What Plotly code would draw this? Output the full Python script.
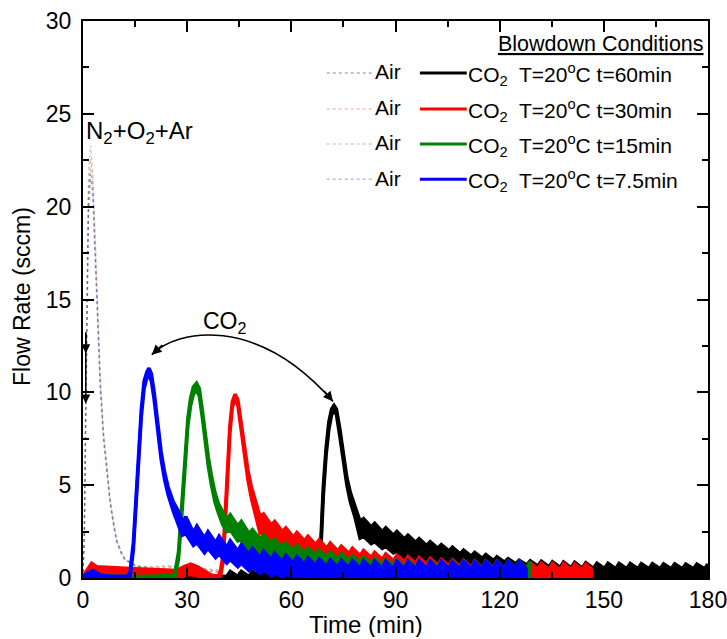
import plotly.graph_objects as go

# ---------------- data ----------------
t_air = [0, 0.4, 0.8, 1.2, 1.6, 2.2, 2.8, 3.4, 4.2, 5.0, 5.9, 7.0, 7.8, 8.8, 9.7, 11.0, 12.1, 15.4, 20, 25, 30, 35, 40]
air_60 = [0, 2.5, 9, 16, 20.5, 22.0, 21.0, 18.0, 14.0, 10.3, 7.6, 5.4, 4.1, 2.9, 2.0, 1.35, 1.0, 0.65, 0.6, 0.65, 0.55, 0.5, 0.4]
air_30 = [0, 3, 10, 17, 21, 22.6, 21.5, 18.6, 14.5, 10.6, 7.8, 5.5, 4.2, 3.0, 2.05, 1.4, 1.0, 0.6, 0.55, 0.6, 0.5, 0.45, 0.35]
air_15 = [0, 3, 10.5, 18, 22, 23.3, 22, 19, 14.8, 10.8, 8.0, 5.6, 4.3, 3.1, 2.1, 1.45, 1.05, 0.65, 0.5, 0.55, 0.5, 0.4, 0.3]
air_7p5 = [0, 2, 8, 15, 19.5, 21.5, 20.5, 17.5, 13.6, 10.0, 7.4, 5.2, 4.0, 2.8, 1.9, 1.3, 0.95, 0.6, 0.5, 0.45, 0.4, 0.35, 0.3]

# CO2, t=7.5 min (blue)
t_blue = [0, 1.5, 3.0, 5.0, 8.0, 13.0, 13.6, 14.5, 15.3, 16.0, 16.8, 17.6, 18.4, 19.0, 19.7, 20.5, 21.5, 22.5, 23.5, 24.5, 26.0, 27.5,
          28.6, 29.6, 31.8, 32.8, 35.0, 36.0, 38.2, 39.2, 41.4, 42.4, 44.6, 45.6, 47.8, 48.8, 51.0, 52.0, 54.2, 55.2,
          57.4, 58.4, 60.6, 61.6, 63.8, 64.8, 67.0, 68.0, 70.2, 71.2, 73.4, 74.4, 76.6, 77.6, 79.8, 80.8, 83.0, 84.0,
          86.2, 87.2, 89.4, 90.4, 92.6, 93.6, 95.8, 96.8, 99.0, 100.0, 102.2, 103.2, 105.4, 106.4, 108.6, 109.6,
          111.8, 112.8, 115.0, 116.0, 118.2, 119.2, 121.4, 122.4, 124.6, 125.6, 127.6, 127.7]
hi_blue = [0.05, 0.3, 0.4, 0.15, 0.1, 0.1, 0.4, 1.9, 4.4, 6.9, 9.1, 10.6, 11.1, 11.3, 11.0, 10.0, 8.3, 6.8, 5.7, 4.9, 4.1, 3.6,
           3.0, 3.3, 2.45, 2.8, 2.15, 2.5, 1.9, 2.25, 1.65, 2.0, 1.45, 1.8, 1.27, 1.6, 1.1, 1.45, 0.98, 1.33,
           0.88, 1.23, 0.8, 1.15, 0.73, 1.08, 0.67, 1.02, 0.62, 0.98, 0.58, 0.95, 0.55, 0.93, 0.53, 0.92, 0.52, 0.9,
           0.5, 0.9, 0.5, 0.9, 0.5, 0.9, 0.5, 0.9, 0.5, 0.9, 0.5, 0.9, 0.5, 0.88, 0.5, 0.88,
           0.5, 0.88, 0.5, 0.88, 0.5, 0.88, 0.5, 0.88, 0.5, 0.88, 0.5, 0.0]
lo_blue = [0, 0, 0, 0, 0, 0, 0.1, 1.5, 4.0, 6.5, 8.7, 10.2, 10.8, 10.9, 10.6, 9.6, 7.9, 6.4, 5.3, 4.5, 3.6, 2.9,
           2.3, 2.4, 1.75, 1.9, 1.35, 1.6, 1.1, 1.3, 0.8, 1.0, 0.6, 0.8, 0.4, 0.6, 0.25, 0.45, 0.12, 0.3,
           0.05, 0.2, 0, 0.1, 0, 0, 0, 0, 0, 0, 0, 0, 0, 0, 0, 0, 0, 0,
           0, 0, 0, 0, 0, 0, 0, 0, 0, 0, 0, 0, 0, 0, 0, 0,
           0, 0, 0, 0, 0, 0, 0, 0, 0, 0, 0, 0]

# CO2, t=15 min (green)
t_green = [0, 3.0, 10.0, 20.0, 26.0, 26.5, 27.5, 28.5, 29.4, 30.2, 31.0, 31.8, 32.7, 33.5, 34.4, 35.3, 36.1, 37.0, 38.0, 39.0, 40.2,
           41.4, 42.4, 44.6, 45.6, 47.8, 48.8, 51.0, 52.0, 54.2, 55.2, 57.4, 58.4, 60.6, 61.6, 63.8, 64.8, 67.0, 68.0,
           70.2, 71.2, 73.4, 74.4, 76.6, 77.6, 79.8, 80.8, 83.0, 84.0, 86.2, 87.2, 89.4, 90.4, 92.6, 93.6, 95.8, 96.8,
           99.0, 100.0, 102.2, 103.2, 105.4, 106.4, 108.6, 109.6, 111.8, 112.8, 115.0, 116.0, 118.2, 119.2,
           121.4, 122.4, 124.6, 125.6, 127.8, 128.6, 128.7]
hi_green = [0.05, 0.15, 0.1, 0.1, 0.15, 0.3, 1.4, 3.9, 6.6, 8.6, 9.7, 10.3, 10.5, 10.2, 9.0, 7.6, 6.5, 5.5, 4.6, 4.0, 3.6,
            3.15, 3.4, 2.8, 3.05, 2.4, 2.6, 2.1, 2.35, 1.85, 2.1, 1.65, 1.9, 1.5, 1.75, 1.35, 1.6, 1.25, 1.5,
            1.15, 1.4, 1.05, 1.3, 0.95, 1.2, 0.87, 1.12, 0.8, 1.05, 0.74, 1.0, 0.68, 0.97, 0.62, 0.95, 0.58, 0.92,
            0.55, 0.92, 0.55, 0.92, 0.53, 0.9, 0.52, 0.9, 0.52, 0.9, 0.52, 0.9, 0.5, 0.9,
            0.5, 0.9, 0.5, 0.9, 0.5, 0.85, 0.0]
lo_green = [0, 0, 0, 0, 0, 0.1, 1.0, 3.5, 6.2, 8.2, 9.3, 9.9, 10.1, 9.8, 8.6, 7.2, 6.0, 5.0, 4.1, 3.5, 2.9,
            2.5, 2.6, 2.0, 2.1, 1.3, 1.45, 1.0, 1.1, 0.75, 0.85, 0.55, 0.65, 0.38, 0.5, 0.25, 0.38, 0.15, 0.25,
            0.08, 0.15, 0, 0.05, 0, 0, 0, 0, 0, 0, 0, 0, 0, 0, 0, 0, 0, 0,
            0, 0, 0, 0, 0, 0, 0, 0, 0, 0, 0, 0, 0, 0,
            0, 0, 0, 0, 0, 0, 0]

# CO2, t=30 min (red)
t_red = [0, 1.0, 2.5, 4.0, 8.0, 15.0, 22.0, 27.0, 29.0, 31.0, 33.0, 35.0, 37.0, 39.0, 39.6, 40.3, 41.0, 41.6, 42.3, 43.0,
         43.8, 44.6, 45.5, 46.5, 47.5, 48.5, 49.5, 50.3,
         51.0, 52.0, 54.2, 55.2, 57.4, 58.4, 60.6, 61.6, 63.8, 64.8, 67.0, 68.0, 70.2, 71.2, 73.4, 74.4, 76.6, 77.6,
         79.8, 80.8, 83.0, 84.0, 86.2, 87.2, 89.4, 90.4, 92.6, 93.6, 95.8, 96.8, 99.0, 100.0, 102.2, 103.2,
         105.4, 106.4, 108.6, 109.6, 111.8, 112.8, 115.0, 116.0, 118.2, 119.2, 121.4, 122.4, 124.6, 125.6,
         127.8, 128.8, 131.0, 132.0, 134.2, 135.2, 137.4, 138.4, 140.6, 141.6, 143.8, 144.8, 146.4, 146.5]
hi_red = [0.1, 0.4, 0.8, 0.6, 0.55, 0.5, 0.45, 0.4, 0.6, 0.75, 0.6, 0.35, 0.15, 0.1, 0.4, 1.2, 3.4, 5.9, 8.2, 9.5,
          9.9, 9.6, 8.4, 7.0, 5.8, 4.9, 4.2, 3.7,
          3.3, 3.45, 2.85, 3.05, 2.5, 2.7, 2.2, 2.45, 2.0, 2.25, 1.8, 2.05, 1.6, 1.88, 1.45, 1.72, 1.32, 1.6,
          1.2, 1.48, 1.1, 1.38, 1.0, 1.3, 0.93, 1.22, 0.86, 1.15, 0.8, 1.1, 0.75, 1.05, 0.7, 1.0,
          0.66, 0.97, 0.62, 0.94, 0.58, 0.92, 0.55, 0.9, 0.53, 0.88, 0.5, 0.86, 0.48, 0.84,
          0.46, 0.82, 0.45, 0.8, 0.44, 0.78, 0.43, 0.77, 0.42, 0.76, 0.42, 0.75, 0.5, 0.0]
lo_red = [0, 0, 0.2, 0.1, 0.05, 0, 0, 0, 0.1, 0.2, 0.1, 0, 0, 0, 0.1, 0.8, 3.0, 5.5, 7.8, 9.2,
          9.6, 9.3, 8.0, 6.6, 5.3, 4.3, 3.6, 3.0,
          2.4, 2.5, 1.8, 1.9, 1.45, 1.55, 1.2, 1.3, 1.0, 1.1, 0.85, 0.95, 0.72, 0.82, 0.6, 0.7, 0.48, 0.58,
          0.38, 0.48, 0.28, 0.38, 0.2, 0.3, 0.12, 0.22, 0.05, 0.15, 0, 0.08, 0, 0, 0, 0,
          0, 0, 0, 0, 0, 0, 0, 0, 0, 0, 0, 0, 0, 0,
          0, 0, 0, 0, 0, 0, 0, 0, 0, 0, 0, 0, 0, 0]

# CO2, t=60 min (black)
t_black = [0, 5, 10, 20, 30, 36, 39.0,
           41.4, 42.4, 44.6, 45.6, 47.8, 48.8, 51.0, 52.0, 54.2, 55.2, 57.4, 58.4, 60.6, 61.6, 63.8, 64.8,
           67.0, 67.8, 68.5, 69.2, 70.0, 70.8, 71.6, 72.3, 73.0, 74.0, 75.0, 76.0, 77.0, 78.3,
           79.8, 80.8, 83.0, 84.0, 86.2, 87.2, 89.4, 90.4, 92.6, 93.6, 95.8, 96.8, 99.0, 100.0, 102.2, 103.2,
           105.4, 106.4, 108.6, 109.6, 111.8, 112.8, 115.0, 116.0, 118.2, 119.2, 121.4, 122.4, 124.6, 125.6,
           127.8, 128.8, 131.0, 132.0, 134.2, 135.2, 137.4, 138.4, 140.6, 141.6, 143.8, 144.8, 147.0, 148.0,
           150.2, 151.2, 153.4, 154.4, 156.6, 157.6, 159.8, 160.8, 163.0, 164.0, 166.2, 167.2, 169.4, 170.4,
           172.6, 173.6, 175.8, 176.8, 179.0, 180.0]
hi_black = [0.05, 0.05, 0.05, 0.05, 0.08, 0.15, 0.1,
            0.08, 0.35, 0.08, 0.35, 0.08, 0.35, 0.08, 0.35, 0.08, 0.35, 0.08, 0.35, 0.08, 0.35, 0.08, 0.35,
            0.1, 0.5, 2.0, 4.9, 7.0, 8.4, 9.1, 9.3, 9.1, 8.0, 6.6, 5.4, 4.6, 3.9,
            3.05, 3.2, 2.75, 2.95, 2.5, 2.7, 2.3, 2.5, 2.1, 2.3, 1.92, 2.12, 1.75, 1.95, 1.6, 1.8,
            1.46, 1.66, 1.3, 1.5, 1.18, 1.38, 1.06, 1.26, 0.95, 1.14, 0.85, 1.04, 0.77, 0.96,
            0.7, 0.92, 0.65, 0.9, 0.6, 0.88, 0.57, 0.86, 0.55, 0.84, 0.53, 0.82, 0.52, 0.8,
            0.51, 0.79, 0.5, 0.78, 0.5, 0.78, 0.5, 0.77, 0.5, 0.77, 0.5, 0.76, 0.5, 0.76,
            0.5, 0.75, 0.5, 0.75, 0.5, 0.75]
lo_black = [0, 0, 0, 0, 0, 0, 0,
            0, 0, 0, 0, 0, 0, 0, 0, 0, 0, 0, 0, 0, 0, 0, 0,
            0, 0.1, 1.5, 4.4, 6.6, 8.0, 8.8, 9.0, 8.8, 7.6, 6.2, 5.0, 4.1, 3.3,
            2.15, 2.25, 1.85, 1.95, 1.6, 1.7, 1.35, 1.45, 1.1, 1.2, 0.9, 1.0, 0.72, 0.82, 0.55, 0.65,
            0.42, 0.52, 0.3, 0.4, 0.2, 0.3, 0.12, 0.2, 0.05, 0.12, 0, 0.05, 0, 0,
            0, 0, 0, 0, 0, 0, 0, 0, 0, 0, 0, 0, 0, 0,
            0, 0, 0, 0, 0, 0, 0, 0, 0, 0, 0, 0, 0, 0,
            0, 0, 0, 0, 0, 0]

x_ticks = [0, 30, 60, 90, 120, 150, 180]
y_ticks = [0, 5, 10, 15, 20, 25, 30]

co2_labels = ["CO<sub>2</sub>  T=20<sup>o</sup>C t=60min",
              "CO<sub>2</sub>  T=20<sup>o</sup>C t=30min",
              "CO<sub>2</sub>  T=20<sup>o</sup>C t=15min",
              "CO<sub>2</sub>  T=20<sup>o</sup>C t=7.5min"]

for a, b, c in [(t_blue, hi_blue, lo_blue), (t_green, hi_green, lo_green),
                (t_red, hi_red, lo_red), (t_black, hi_black, lo_black)]:
    assert len(a) == len(b) == len(c), (len(a), len(b), len(c))

FONT = "Arial, 'Liberation Sans', sans-serif"
colors = ["#000000", "#ff0000", "#008000", "#0000ff"]
air_colors = ["rgba(0,0,0,0.3)", "rgba(255,0,0,0.28)", "rgba(0,128,0,0.28)", "rgba(0,0,255,0.28)"]

fig = go.Figure()

# Air (dotted, faint)
for y, col in zip([air_60, air_30, air_15, air_7p5], air_colors):
    fig.add_trace(go.Scatter(x=t_air, y=y, mode="lines", showlegend=False,
                             line=dict(color=col, width=1.3, dash="dot"), hoverinfo="skip"))

# CO2 bands
series = [(t_black, lo_black, hi_black, colors[0]),
          (t_red, lo_red, hi_red, colors[1]),
          (t_green, lo_green, hi_green, colors[2]),
          (t_blue, lo_blue, hi_blue, colors[3])]
for t, lo, hi, col in series:
    fig.add_trace(go.Scatter(x=t, y=lo, mode="lines", showlegend=False,
                             line=dict(color=col, width=3.5), hoverinfo="skip"))
    fig.add_trace(go.Scatter(x=t, y=hi, mode="lines", showlegend=False, fill="tonexty",
                             fillcolor=col, line=dict(color=col, width=3.5), hoverinfo="skip"))

# ---------- manual legend ----------
row_y = [0.9066, 0.842, 0.779, 0.716]
LFS = 21
shapes = []
annotations = []
for i, ry in enumerate(row_y):
    shapes.append(dict(type="line", xref="paper", yref="paper", x0=0.390, x1=0.464, y0=ry, y1=ry,
                       line=dict(color=air_colors[i], width=1.5, dash="dot")))
    shapes.append(dict(type="line", xref="paper", yref="paper", x0=0.539, x1=0.614, y0=ry, y1=ry,
                       line=dict(color=colors[i], width=3)))
    annotations.append(dict(xref="paper", yref="paper", x=0.464, y=ry + 0.002, text="Air", showarrow=False,
                            xanchor="left", yanchor="middle", font=dict(size=LFS, color="black", family=FONT)))
    annotations.append(dict(xref="paper", yref="paper", x=0.612, y=ry - 0.002, text=co2_labels[i], showarrow=False,
                            xanchor="left", yanchor="middle", font=dict(size=LFS, color="black", family=FONT)))
annotations.append(dict(xref="paper", yref="paper", x=0.996, y=0.958, text="<u>Blowdown Conditions</u>",
                        showarrow=False, xanchor="right", yanchor="middle",
                        font=dict(size=21.5, color="black", family=FONT)))

# axis titles (placed as in the reference)
annotations.append(dict(xref="paper", yref="paper", x=0.4528, y=-0.1095, text="Time (min)", showarrow=False,
                        xanchor="center", yanchor="bottom", height=26, valign="middle",
                        font=dict(size=24, color="black", family=FONT)))
annotations.append(dict(xref="paper", yref="paper", x=-0.0976, y=0.5045, text="Flow Rate (sccm)",
                        showarrow=False, textangle=-90, xanchor="center", yanchor="middle",
                        font=dict(size=23, color="black", family=FONT)))

# in-plot labels
annotations.append(dict(x=0.2, y=24.0, xref="x", yref="y", text="N<sub>2</sub>+O<sub>2</sub>+Ar",
                        showarrow=False, xanchor="left", yanchor="middle",
                        font=dict(size=24, color="black", family=FONT)))
annotations.append(dict(x=41.0, y=13.75, xref="x", yref="y", text="CO<sub>2</sub>",
                        showarrow=False, xanchor="center", yanchor="middle",
                        font=dict(size=23, color="black", family=FONT)))

# curved double arrow
shapes.append(dict(type="path", xref="x", yref="y",
                   path="M 19.8,12.03 C 27,13.4 50,14.2 72.0,9.51",
                   line=dict(color="black", width=1.5)))
annotations.append(dict(x=19.8, y=12.03, xref="x", yref="y", ax=12, ay=-11, text="",
                        showarrow=True, arrowhead=2, arrowsize=1.3, arrowwidth=1.5, arrowcolor="black", standoff=0))
annotations.append(dict(x=72.0, y=9.51, xref="x", yref="y", ax=-10, ay=-12, text="",
                        showarrow=True, arrowhead=2, arrowsize=1.3, arrowwidth=1.5, arrowcolor="black", standoff=0))

# small down arrows near the y-axis
annotations.append(dict(x=0.8, y=9.4, xref="x", yref="y", ax=0.8, ay=13.3, axref="x", ayref="y", text="",
                        showarrow=True, arrowhead=2, arrowsize=1.2, arrowwidth=1.5, arrowcolor="black", standoff=0))
annotations.append(dict(x=0.8, y=12.1, xref="x", yref="y", ax=0.8, ay=13.3, axref="x", ayref="y", text="",
                        showarrow=True, arrowhead=2, arrowsize=1.2, arrowwidth=1.5, arrowcolor="black", standoff=0))

axis_common = dict(showline=True, linewidth=2, linecolor="black", mirror="ticks", ticks="inside",
                   ticklen=11, tickwidth=2, tickcolor="black", showgrid=False, zeroline=False,
                   automargin=False, ticklabeloverflow="allow",
                   tickfont=dict(size=23, color="black", family=FONT))

fig.update_layout(
    width=727, height=639,
    margin=dict(l=83, r=19, t=21, b=61),
    paper_bgcolor="white", plot_bgcolor="white",
    font=dict(family=FONT, color="black"),
    showlegend=False,
    shapes=shapes, annotations=annotations,
    xaxis=dict(range=[0, 180], tickvals=x_ticks, ticktext=[str(v) for v in x_ticks],
               minor=dict(dtick=15, ticks="inside", ticklen=6, tickwidth=2, tickcolor="black"),
               **axis_common),
    yaxis=dict(range=[0, 30], tickvals=y_ticks, ticktext=[str(v) for v in y_ticks],
               minor=dict(dtick=2.5, ticks="inside", ticklen=6, tickwidth=2, tickcolor="black"),
               ticklabelstandoff=5,
               **axis_common),
)

fig.write_html("out.html", config={"displayModeBar": False},
               post_script="document.body.style.margin='0';document.body.style.overflow='hidden';")
